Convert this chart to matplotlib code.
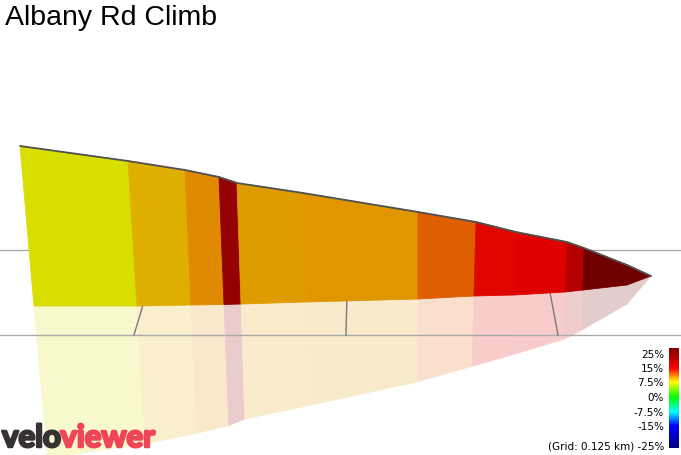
import numpy as np
import matplotlib
matplotlib.use("Agg")
import matplotlib.pyplot as plt
import matplotlib.patheffects as pe
from matplotlib.colors import LinearSegmentedColormap
from matplotlib.patches import Polygon

# profile outline in screen space (px): top of each segment boundary and its base
x_top = [20, 128, 185, 219, 237, 303, 418, 476, 516, 567, 584, 627, 651]
y_top = [147, 162, 171, 178, 184, 194, 213, 223, 233, 243, 249, 266, 277]
x_base = [34, 137, 191, 224, 241, 306, 418, 474, 514, 565, 583, 627, 651]
y_base = [307, 307, 306, 305.5, 305, 303, 300, 297, 296, 293, 291, 286, 277]
# gradient (%) for each segment
gradient = [7.3, 9.0, 10.3, 21.6, 9.75, 10.0, 11.7, 14.7, 15.0, 18.6, 25.0, 25.0]

# ground grid: horizontal lines, and depth lines (back x, front x)
grid_y = [251, 336]
grid_back_x = [159.5, 348, 542]
grid_front_x = [134, 346, 558]

cbar_labels = ['25%', '15%', '7.5%', '0%', '-7.5%', '-15%', '(Grid: 0.125 km) -25%']
cbar_stops = [-25, -15, -7.5, 0, 7.5, 15, 25]
cbar_pos = [0.0, 0.22, 0.36, 0.51, 0.66, 0.80, 1.0]
cbar_colors = ['#000080', '#0000ff', '#00ffff', '#00ff00', '#ffff00', '#ff0000', '#800000']

cmap = LinearSegmentedColormap.from_list('grad', list(zip(cbar_pos, cbar_colors)))

def grad_color(g, light=0.875):
    c = np.array(cmap(np.interp(g, cbar_stops, cbar_pos))[:3])
    return tuple(c * light)

fig = plt.figure(figsize=(6.81, 4.56), dpi=100)
ax = fig.add_axes([0, 0, 1, 1])
ax.set_xlim(0, 681)
ax.set_ylim(456, 0)
ax.axis('off')

# reflection below the ground line
k = 0.95
xt, yt = np.array(x_top, float), np.array(y_top, float)
xb, yb = np.array(x_base, float), np.array(y_base, float)
xr = xb + k * (xb - xt)
yr = yb + k * (yb - yt)
for i, g in enumerate(gradient):
    fc = np.array(grad_color(g)) * 0.2 + 0.8
    poly = Polygon([(xb[i], yb[i]), (xb[i+1], yb[i+1]), (xr[i+1], yr[i+1]), (xr[i], yr[i])],
                   closed=True, facecolor=fc, edgecolor=fc, lw=0.5, zorder=1)
    ax.add_patch(poly)

# grid
for gy in grid_y:
    ax.plot([0, 681], [gy, gy], color='#aaaaaa', lw=1, zorder=2)
for bx, fx in zip(grid_back_x, grid_front_x):
    ax.plot([bx, fx], [grid_y[0], grid_y[1]], color='#7a7a7a', lw=1, zorder=2)

# profile faces
for i, g in enumerate(gradient):
    fc = grad_color(g)
    poly = Polygon([(xt[i], yt[i]), (xt[i+1], yt[i+1]), (xb[i+1], yb[i+1]), (xb[i], yb[i])],
                   closed=True, facecolor=fc, edgecolor=fc, lw=0.6, zorder=3)
    ax.add_patch(poly)
ax.plot(xt, yt, color='#505050', lw=1.3, zorder=4, solid_capstyle='round')

# title
ax.text(5, 25, 'Albany Rd Climb', fontsize=20.5, family='Liberation Sans',
        va='baseline', ha='left', color='black')

# colour bar
bar = np.linspace(1, 0, 200).reshape(-1, 1)
ax.imshow(bar, cmap=cmap, extent=[669, 679, 449, 349], aspect='auto', zorder=5)
label_y = [355, 369, 383, 398, 413, 427, 447]
for lab, ly in zip(cbar_labels, label_y):
    ax.text(664, ly, lab, fontsize=7.5, family='DejaVu Sans', ha='right', va='center',
            color='black', zorder=6)

# logo
dark, pink = '#363232', '#f04558'
t1 = ax.text(2, 448, 'velo', fontsize=22.5, family='Lato', fontweight='bold',
             color=dark, va='baseline', ha='left', zorder=6,
             path_effects=[pe.withStroke(linewidth=1.8, foreground=dark)])
ax.annotate('viewer', xy=(1, 0), xycoords=t1, xytext=(-0.5, 0), textcoords='offset points',
            fontsize=22.5, family='Lato', fontweight='bold', color=pink,
            va='bottom', ha='left', zorder=6,
            path_effects=[pe.withStroke(linewidth=1.8, foreground=pink)])

fig.savefig('out.png', dpi=100)
